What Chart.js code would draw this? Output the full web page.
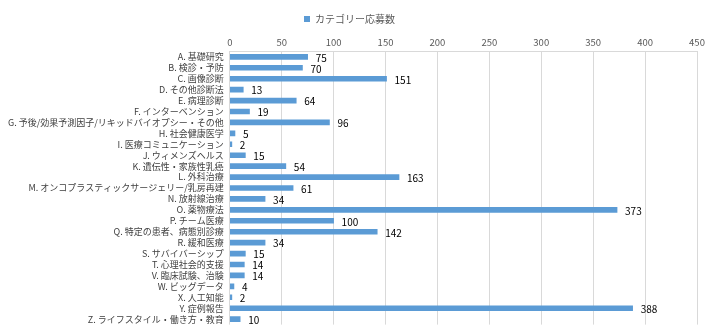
<!DOCTYPE html>
<html>
<head>
<meta charset="utf-8">
<script src="https://cdn.jsdelivr.net/npm/chart.js@4/dist/chart.umd.min.js"></script>
<style>
  html, body { margin: 0; padding: 0; background: #fff; }
  #wrap { width: 709px; height: 336px; }
</style>
</head>
<body>
<div id="wrap"><canvas id="barChart"></canvas></div>
<script>
// data
var categories = [
  'A. 基礎研究', 'B. 検診・予防', 'C. 画像診断', 'D. その他診断法', 'E. 病理診断',
  'F. インターベンション', 'G. 予後/効果予測因子/リキッドバイオプシー・その他',
  'H. 社会健康医学', 'I. 医療コミュニケーション', 'J. ウィメンズヘルス',
  'K. 遺伝性・家族性乳癌', 'L. 外科治療', 'M. オンコプラスティックサージェリー/乳房再建',
  'N. 放射線治療', 'O. 薬物療法', 'P. チーム医療', 'Q. 特定の患者、病態別診療',
  'R. 緩和医療', 'S. サバイバーシップ', 'T. 心理社会的支援', 'V. 臨床試験、治験',
  'W. ビッグデータ', 'X. 人工知能', 'Y. 症例報告', 'Z. ライフスタイル・働き方・教育'
];
var counts = [75, 70, 151, 13, 64, 19, 96, 5, 2, 15, 54, 163, 61, 34, 373, 100, 142, 34, 15, 14, 14, 4, 2, 388, 10];
var seriesName = 'カテゴリー応募数';
var xMax = 450;
var xStep = 50;

var jpFont = '"Noto Sans CJK JP", "Noto Sans", sans-serif';

// value labels to the right of each bar
var valueLabels = {
  id: 'valueLabels',
  afterDatasetsDraw: function(chart){
    var ctx = chart.ctx;
    var meta = chart.getDatasetMeta(0);
    ctx.save();
    ctx.font = '10px ' + jpFont;
    ctx.fillStyle = '#000000';
    ctx.textAlign = 'left';
    ctx.textBaseline = 'middle';
    meta.data.forEach(function(bar, i){
      ctx.fillText(String(counts[i]), bar.x + 8, bar.y + 1);
    });
    ctx.restore();
  }
};

var ctx = document.getElementById('barChart').getContext('2d');
var barChart = new Chart(ctx, {
  type: 'bar',
  data: {
    labels: categories,
    datasets: [{
      label: seriesName,
      data: counts,
      backgroundColor: '#5B9BD5',
      borderWidth: 0,
      barThickness: 5
    }]
  },
  options: {
    indexAxis: 'y',
    responsive: true,
    maintainAspectRatio: false,
    animation: false,
    layout: { padding: { left: 2, right: 12, top: 0, bottom: 9 } },
    plugins: {
      legend: {
        position: 'top',
        labels: {
          boxWidth: 6,
          boxHeight: 6,
          color: '#595959',
          font: { family: jpFont, size: 10 },
          padding: 14
        }
      },
      tooltip: { enabled: false }
    },
    scales: {
      x: {
        position: 'top',
        min: 0,
        max: xMax,
        ticks: {
          stepSize: xStep,
          color: '#595959',
          font: { family: jpFont, size: 9.5 },
          padding: 3
        },
        grid: { color: '#d9d9d9', drawTicks: false },
        border: { color: '#d9d9d9' }
      },
      y: {
        ticks: {
          color: '#404040',
          font: { family: jpFont, size: 9 },
          autoSkip: false,
          padding: 6
        },
        grid: { display: false, drawTicks: false },
        border: { display: false }
      }
    }
  },
  plugins: [valueLabels]
});
</script>
</body>
</html>
